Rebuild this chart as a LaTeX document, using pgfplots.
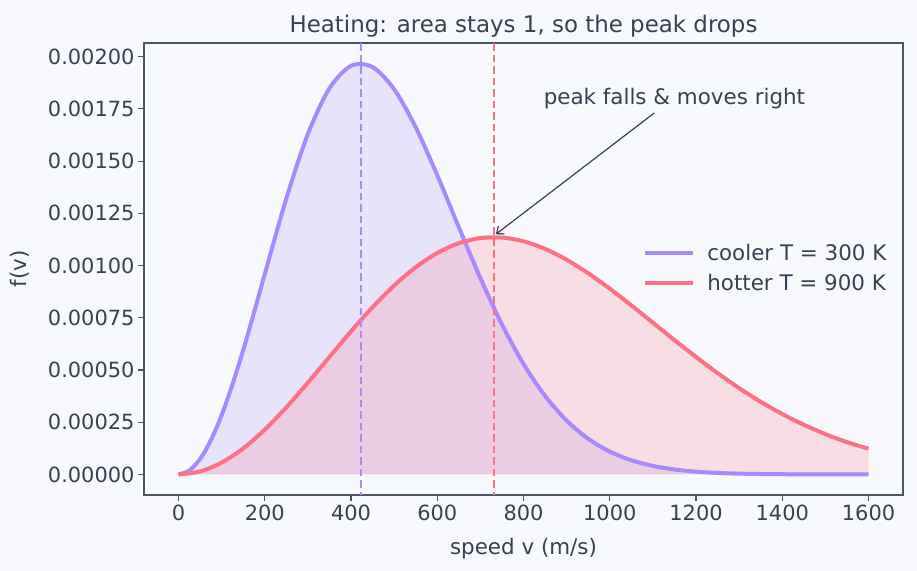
\documentclass[border=0pt]{standalone}
\usepackage{pgfplots}
\pgfplotsset{compat=1.18}
\usepackage{fontspec}
\setmainfont{DejaVu Sans}
\usetikzlibrary{arrows.meta}

\definecolor{bgc}{HTML}{F8F9FC}
\definecolor{textc}{HTML}{374151}
\definecolor{framec}{HTML}{4B5563}
\definecolor{cool}{HTML}{A78BFA}
\definecolor{hot}{HTML}{FB7185}

% Maxwell speed distribution of N2 (m/s, probability density)
\def\coolpts{(0,0) (25,1.8689e-5) (50,7.397e-5) (75,1.6355e-4) (100,2.8370e-4)
(125,4.2951e-4) (150,5.9508e-4) (175,7.7386e-4) (200,9.5891e-4)
(250,1.32065e-3) (300,1.62967e-3) (350,1.84825e-3) (400,1.95595e-3)
(450,1.95017e-3) (500,1.84414e-3) (550,1.66207e-3)
(600,1.43246e-3) (650,1.18365e-3) (700,9.4002e-4) (750,7.1806e-4)
(800,5.2887e-4) (850,3.7579e-4) (900,2.5782e-4) (950,1.7093e-4)
(1000,1.0957e-4) (1050,6.794e-5) (1100,4.078e-5) (1150,2.371e-5)
(1200,1.335e-5) (1250,7.28e-6) (1300,3.85e-6) (1350,1.97e-6)
(1400,9.8e-7) (1450,4.7e-7) (1500,2.2e-7) (1550,1.0e-7) (1600,4.4e-8)}
\def\hotpts{(0,0) (50,1.4370e-5) (100,5.6681e-5) (150,1.24584e-4) (200,2.14348e-4)
(250,3.21111e-4) (300,4.39212e-4) (350,5.62540e-4) (400,6.84958e-4)
(450,8.00633e-4) (500,9.04400e-4) (550,9.9193e-4) (600,1.06009e-3)
(650,1.10687e-3) (700,1.13140e-3) (750,1.13402e-3)
(800,1.11621e-3) (850,1.07978e-3) (900,1.02778e-3) (950,9.6318e-4)
(1000,8.8924e-4) (1050,8.0935e-4) (1100,7.2645e-4) (1150,6.4321e-4)
(1200,5.6230e-4) (1250,4.8521e-4) (1300,4.1332e-4) (1350,3.4780e-4)
(1400,2.8924e-4) (1450,2.3772e-4) (1500,1.9312e-4) (1550,1.5495e-4)
(1600,1.2296e-4)}

\begin{document}
\begin{tikzpicture}[x=1bp,y=1bp]
\path[fill=bgc, use as bounding box] (0,0) rectangle (917,571);
\begin{axis}[
  at={(144bp,76bp)}, anchor=south west,
  width=759bp, height=452bp, scale only axis,
  xmin=-80, xmax=1680,
  ymin=-0.0000984, ymax=0.0020654,
  axis line style={framec, line width=1.2bp},
  every tick/.style={framec, line width=1.1bp},
  tick align=outside, major tick length=6bp,
  xtick pos=bottom, ytick pos=left,
  xtick={0,200,...,1600},
  ytick={0,0.00025,...,0.00201},
  scaled y ticks=false,
  xticklabel style={/pgf/number format/1000 sep={}},
  yticklabel style={/pgf/number format/.cd, fixed, fixed zerofill, precision=5},
  /pgf/number format/assume math mode=true,
  tick label style={text=textc, font=\fontsize{21}{25}\selectfont},
  xlabel={speed v (m/s)}, ylabel={f(v)},
  label style={text=textc, font=\fontsize{21.5}{26}\selectfont},
  xlabel style={yshift=-11bp},
  ylabel style={yshift=12bp},
  title={Heating: area stays 1, so the peak drops},
  title style={text=textc, font=\fontsize{23}{28}\selectfont, yshift=-4bp},
  legend style={at={(0.985,0.502)}, anchor=east, draw=none, fill=none,
    text=textc, font=\fontsize{21.5}{26}\selectfont,
    row sep=9bp},
  legend cell align=left,
  legend image code/.code={\draw[#1, line width=4bp] (0bp,0bp) -- (48bp,0bp);
    \path (58bp,0bp);},
  axis background/.style={fill=bgc},
  clip=true,
]
\addplot[draw=none, fill=cool, fill opacity=0.2, forget plot]
  coordinates {\coolpts (1600,0)} -- cycle;
\addplot[draw=none, fill=hot, fill opacity=0.2, forget plot]
  coordinates {\hotpts (1600,0)} -- cycle;

\addplot[cool, line width=4bp, smooth, line join=round] coordinates {\coolpts};
\addlegendentry{cooler T = 300 K}
\addplot[hot, line width=4bp, smooth, line join=round] coordinates {\hotpts};
\addlegendentry{hotter T = 900 K}

% most probable speeds
\addplot[cool, line width=2bp, dash pattern=on 7.5bp off 4bp, forget plot]
  coordinates {(422.1,-0.001) (422.1,0.003)};
\addplot[hot, line width=2bp, dash pattern=on 7.5bp off 4bp, forget plot]
  coordinates {(731.1,-0.001) (731.1,0.003)};

\node[text=textc, font=\fontsize{21.5}{26}\selectfont] at (axis cs:1150,0.00180) {peak falls \& moves right};
\draw[-{Straight Barb[length=6bp,width=10bp]}, textc, line width=1.2bp]
  (axis cs:1103,0.00173) -- (axis cs:736,0.00115);
\end{axis}
\end{tikzpicture}
\end{document}
